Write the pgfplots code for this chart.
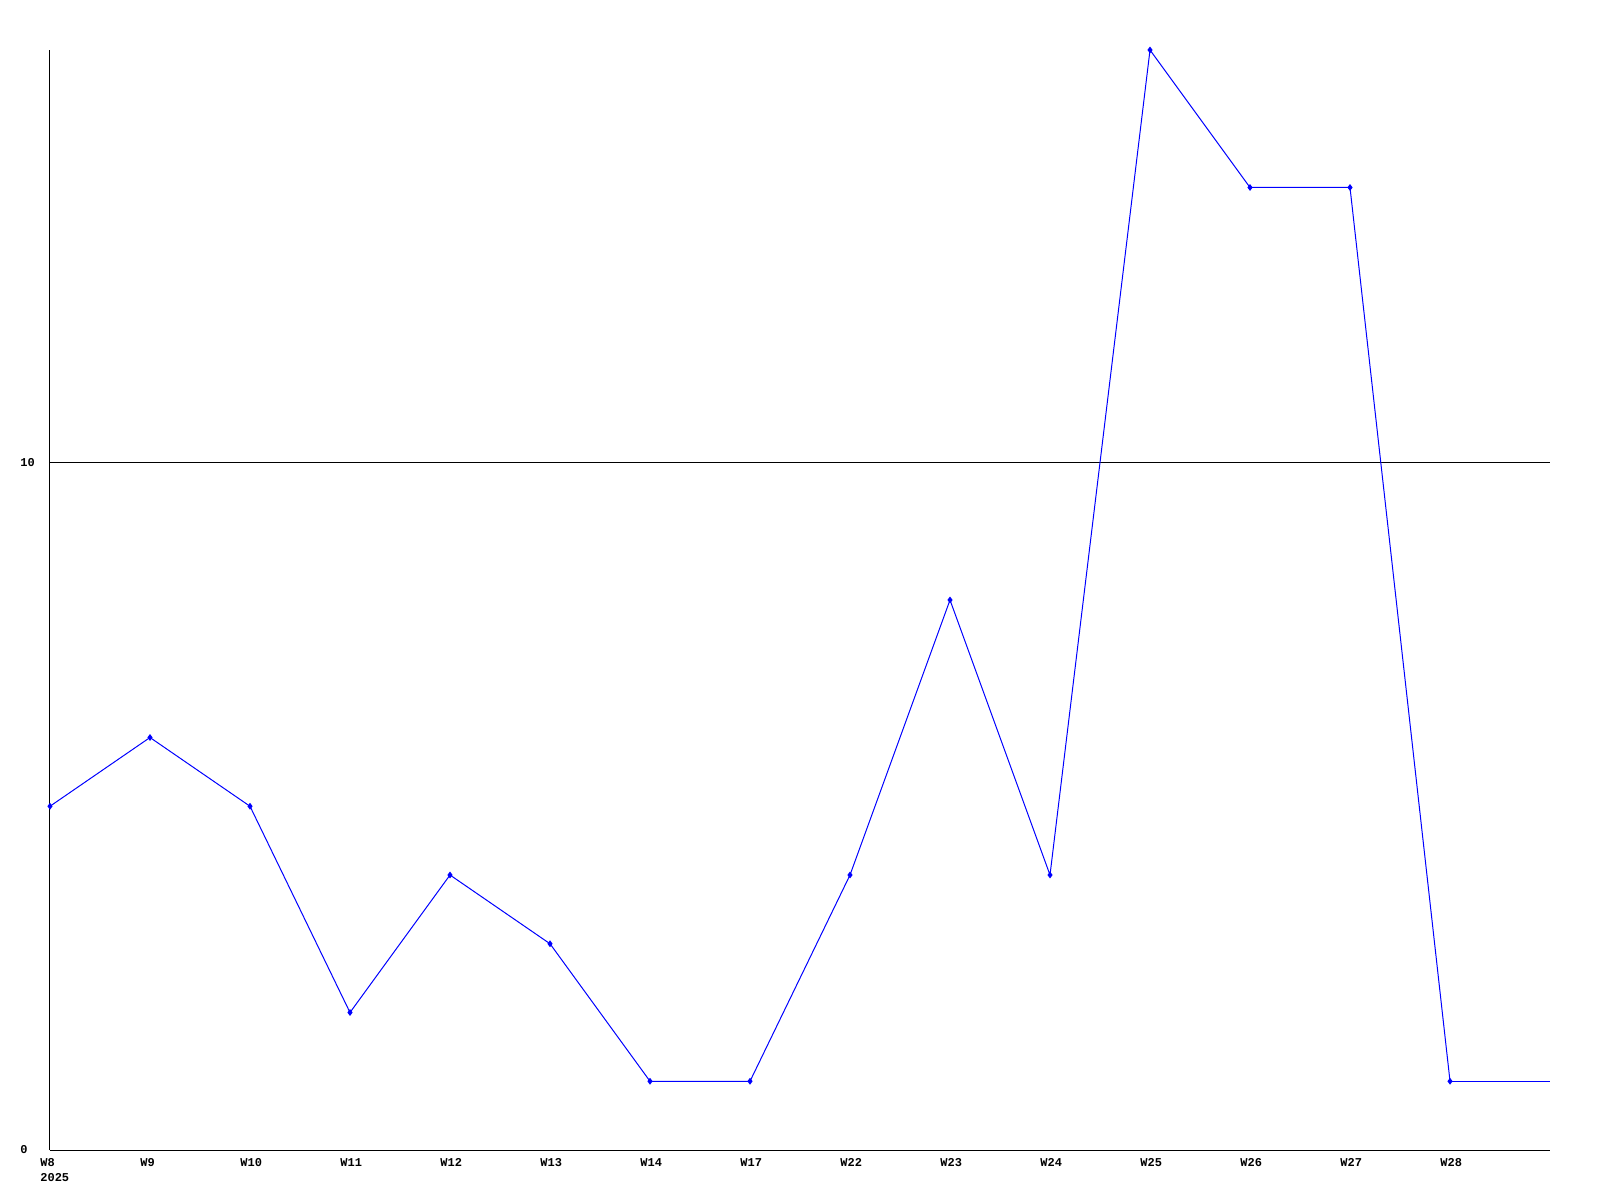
\documentclass[border=0pt]{standalone}
\usepackage{fontspec}
\setmainfont{Liberation Mono}
\usepackage{pgfplots}
\pgfplotsset{compat=1.18}
\begin{document}
\begin{tikzpicture}
\path[use as bounding box] (-25pt,-25pt) rectangle (775pt,575pt);
\begin{axis}[
  at={(0,0)}, anchor=south west,
  scale only axis, width=750pt, height=550pt,
  xmin=0, xmax=15, ymin=0, ymax=16,
  axis lines=left, axis line style={-, line width=0.5pt, black},
  xtick={0,...,14},
  xticklabels={{W8\\2025},W9,W10,W11,W12,W13,W14,W17,W22,W23,W24,W25,W26,W27,W28},
  ytick={0,10},
  major tick length=0pt,
  ymajorgrids, grid style={black, line width=0.5pt},
  /pgf/number format/assume math mode=true,
  tick label style={font=\bfseries\fontsize{6}{7.5}\selectfont, inner sep=0pt},
  xticklabel style={anchor=north west, xshift=-5pt, yshift=-4pt, align=left},
  yticklabel style={anchor=west, xshift=-15pt},
  clip=false,
]
\addplot[blue, line width=0.5pt, mark=diamond*, mark size=1.3pt, mark options={blue}] coordinates {
(0,5) (1,6) (2,5) (3,2) (4,4) (5,3) (6,1) (7,1) (8,4) (9,8) (10,4) (11,16) (12,14) (13,14) (14,1)
};
\addplot[blue, line width=0.5pt, mark=none] coordinates {(14,1) (15,1)};
\end{axis}
\end{tikzpicture}
\end{document}
